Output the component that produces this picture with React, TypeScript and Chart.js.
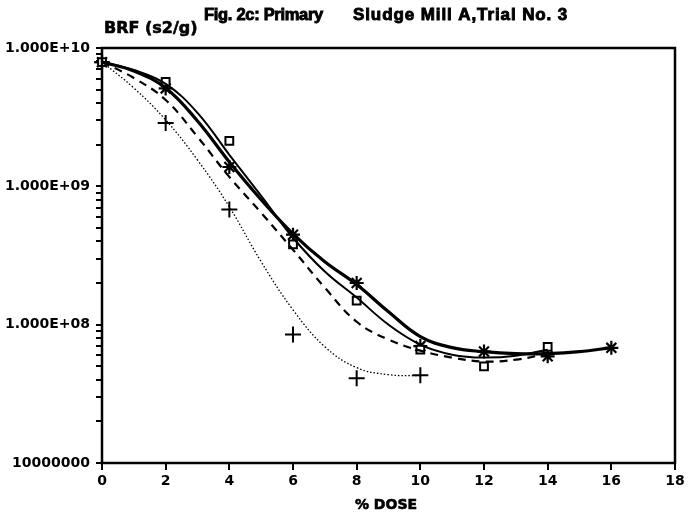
import React, { useEffect, useRef } from "react";
import { Chart, registerables } from "chart.js";

Chart.register(...registerables);

// Measured markers
const doseSquare = [0, 2, 4, 6, 8, 10, 12, 14];
const brfSquare = [7.9e9, 5.7e9, 2.13e9, 3.8e8, 1.49e8, 6.6e7, 5.0e7, 6.9e7];

const doseStar = [0, 2, 4, 6, 8, 10, 12, 14, 16];
const brfStar = [7.9e9, 5.1e9, 1.38e9, 4.47e8, 2.0e8, 7.0e7, 6.4e7, 5.9e7, 6.8e7];

const dosePlus = [0, 2, 4, 6, 8, 10];
const brfPlus = [7.9e9, 2.87e9, 6.8e8, 8.5e7, 4.1e7, 4.3e7];

// Fitted curves at each whole dose
const doseFitStar = [0, 1, 2, 3, 4, 5, 6, 7, 8, 9, 10, 11, 12, 13, 14, 15, 16];
const fitStar = [7.92e9, 6.82e9, 5.14e9, 2.97e9, 1.5e9, 8.0e8, 4.54e8, 2.85e8, 1.95e8, 1.24e8, 8.2e7, 6.82e7, 6.38e7, 6.18e7, 6.18e7, 6.38e7, 6.82e7];

const doseFitSquare = [0, 1, 2, 3, 4, 5, 6, 7, 8, 9, 10, 11, 12, 13, 14];
const fitSquare = [7.92e9, 6.93e9, 5.5e9, 3.4e9, 1.69e9, 8.53e8, 4.25e8, 2.42e8, 1.57e8, 1.0e8, 7.18e7, 6.07e7, 5.78e7, 5.97e7, 6.59e7];

const doseFitDash = [0, 1, 2, 3, 4, 5, 6, 7, 8, 9, 10, 11, 12, 13, 14];
const fitDash = [7.92e9, 6.07e9, 4.21e9, 2.28e9, 1.17e9, 6.44e8, 3.48e8, 1.85e8, 1.05e8, 7.8e7, 6.49e7, 5.78e7, 5.41e7, 5.58e7, 6.18e7];

const doseFitPlus = [0, 1, 2, 3, 4, 5, 6, 7, 8, 9, 10];
const fitPlus = [7.92e9, 5.14e9, 3.02e9, 1.55e9, 7.11e8, 2.85e8, 1.28e8, 6.93e7, 4.89e7, 4.35e7, 4.28e7];

// Y axis ticks
const yDecades = [1e7, 1e8, 1e9];
const yMinorMultipliers = [1, 2, 3, 4, 5, 6, 7, 8, 9];
const yTopTick = 1e10;
const yTickLabels: Record<string, string> = {
  "10000000000": "1.000E+10",
  "1000000000": "1.000E+09",
  "100000000": "1.000E+08",
  "10000000": "10000000",
};

const titleLeft = "Fig. 2c: Primary";
const titleRight = "Sludge Mill A,Trial No. 3";
const yTitleText = "BRF (s2/g)";
const xTitleText = "% DOSE";

const pts = (xs: number[], ys: number[]) => xs.map((x, i) => ({ x, y: ys[i] }));

const FONT = "'DejaVu Sans', sans-serif";
const TITLE_FONT = "'Liberation Sans', Arial, sans-serif";

export default function App() {
  const ref = useRef<HTMLCanvasElement | null>(null);
  useEffect(() => {
    if (!ref.current) return;
    const decor = {
      id: "decor",
      beforeDraw(chart: any) {
        const c = chart.ctx;
        c.save();
        c.fillStyle = "#fff";
        c.fillRect(0, 0, chart.width, chart.height);
        c.restore();
      },
      afterDraw(chart: any) {
        const c = chart.ctx;
        const a = chart.chartArea;
        c.save();
        c.strokeStyle = "#000";
        c.lineWidth = 2.5;
        c.strokeRect(a.left, a.top, a.right - a.left, a.bottom - a.top);
        c.fillStyle = "#000";
        c.textBaseline = "middle";
        c.textAlign = "left";
        c.lineWidth = 0.9;
        c.font = `bold 16.5px ${TITLE_FONT}`;
        c.letterSpacing = "-0.3px";
        c.fillText(titleLeft, 204, 15);
        c.strokeText(titleLeft, 204, 15);
        c.font = `bold 17px ${TITLE_FONT}`;
        c.letterSpacing = "0.9px";
        c.fillText(titleRight, 353, 15);
        c.strokeText(titleRight, 353, 15);
        c.letterSpacing = "0px";
        c.lineWidth = 0.6;
        c.font = `bold 16px ${FONT}`;
        c.fillText(yTitleText, 104, 29);
        c.strokeText(yTitleText, 104, 29);
        c.textAlign = "center";
        c.font = `bold 14px ${FONT}`;
        c.fillText(xTitleText, 386, 505);
        c.strokeText(xTitleText, 386, 505);
        c.restore();
      },
    };
    const curve = { borderColor: "#000", pointRadius: 0, tension: 0.4 };
    const chart = new Chart(ref.current, {
      type: "line",
      data: {
        datasets: [
          { ...curve, data: pts(doseFitSquare, fitSquare), borderWidth: 2 },
          { ...curve, data: pts(doseFitStar, fitStar), borderWidth: 3.2 },
          { ...curve, data: pts(doseFitDash, fitDash), borderWidth: 2.2, borderDash: [8, 6] },
          { ...curve, data: pts(doseFitPlus, fitPlus), borderWidth: 1.3, borderDash: [1.5, 2] },
          {
            data: pts(doseSquare, brfSquare),
            showLine: false,
            pointStyle: "rect",
            pointRadius: 5.5,
            pointBorderWidth: 2,
            pointBorderColor: "#000",
            pointBackgroundColor: "#fff",
            clip: false,
          },
          {
            data: pts(doseStar, brfStar),
            showLine: false,
            pointStyle: "star",
            pointRadius: 7,
            pointBorderWidth: 2.2,
            pointBorderColor: "#000",
            pointBackgroundColor: "#000",
            clip: false,
          },
          {
            data: pts(dosePlus, brfPlus),
            showLine: false,
            pointStyle: "cross",
            pointRadius: 8,
            pointBorderWidth: 2,
            pointBorderColor: "#000",
            clip: false,
          },
        ] as any,
      },
      options: {
        animation: false,
        responsive: false,
        maintainAspectRatio: false,
        layout: { padding: { left: 0, right: 14, top: 48, bottom: 0 } },
        plugins: {
          legend: { display: false },
          tooltip: { enabled: false },
          title: { display: false },
        },
        scales: {
          x: {
            type: "linear",
            min: 0,
            max: 18,
            border: { display: false },
            grid: {
              drawOnChartArea: false,
              drawTicks: true,
              tickLength: 7,
              color: "#000",
              lineWidth: 2,
            },
            ticks: {
              stepSize: 2,
              color: "#000",
              font: { family: FONT, size: 14, weight: "bold" },
              padding: 3,
            },
            afterFit(scale: any) {
              scale.height = 55;
            },
          },
          y: {
            type: "logarithmic",
            min: 1e7,
            max: 1e10,
            border: { display: false },
            grid: {
              drawOnChartArea: false,
              drawTicks: true,
              tickLength: 6,
              color: "#000",
              lineWidth: 2,
            },
            ticks: {
              autoSkip: false,
              color: "#000",
              font: { family: FONT, size: 14, weight: "bold" },
              padding: 6,
              callback(value: any) {
                const k = String(Math.round(Number(value)));
                return yTickLabels[k] ?? "";
              },
            },
            afterBuildTicks(scale: any) {
              const t: { value: number }[] = [];
              yDecades.forEach((d) => yMinorMultipliers.forEach((m) => t.push({ value: m * d })));
              t.push({ value: yTopTick });
              scale.ticks = t;
            },
            afterFit(scale: any) {
              scale.width = 102;
            },
          },
        },
      } as any,
      plugins: [decor],
    });
    return () => chart.destroy();
  }, []);
  return (
    <div style={{ position: "absolute", left: 0, top: 0, width: 689, height: 518 }}>
      <canvas ref={ref} width={689} height={518} style={{ display: "block" }} />
    </div>
  );
}
